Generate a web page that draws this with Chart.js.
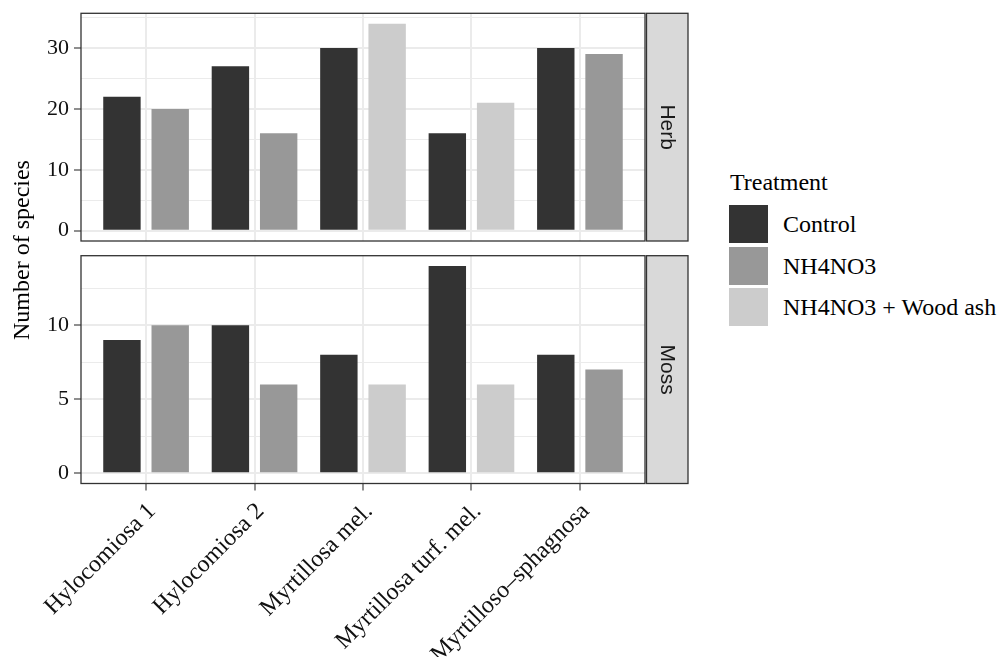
<!DOCTYPE html>
<html>
<head>
<meta charset="utf-8">
<script src="https://cdn.jsdelivr.net/npm/chart.js@4.4.1/dist/chart.umd.min.js"></script>
<style>
  html, body { margin: 0; padding: 0; background: #fff; }
  #wrap { position: relative; width: 1003px; height: 657px; overflow: hidden;
          font-family: 'Liberation Serif', 'Times New Roman', serif; color: #000; }
  canvas { position: absolute; left: 0; }
  #cTop { top: 0; }
  #cBot { top: 246px; }
  #ytitle { position: absolute; width: 300px; height: 24px; line-height: 24px; font-size: 24px;
            text-align: center; left: -129.5px; top: 237.5px; transform: rotate(-90deg); white-space: nowrap; }
  .lg-title { position: absolute; left: 730px; top: 170px; font-size: 24px; line-height: 24px; white-space: nowrap; }
  .lg-box { position: absolute; left: 729px; width: 39px; height: 38px; }
  .lg-text { position: absolute; left: 783px; height: 38px; line-height: 38px; font-size: 24px; white-space: nowrap; }
</style>
</head>
<body>
<div id="wrap">
  <canvas id="cTop" width="700" height="250"></canvas>
  <canvas id="cBot" width="700" height="411"></canvas>
  <div id="ytitle">Number of species</div>
  <div id="legend"></div>
</div>
<script>
// ---------------- data ----------------
const categories = ['Hylocomiosa 1', 'Hylocomiosa 2', 'Myrtillosa mel.', 'Myrtillosa turf. mel.', 'Myrtilloso\u2013sphagnosa'];
const treatments = ['Control', 'NH4NO3', 'NH4NO3 + Wood ash'];
const facets = ['Herb', 'Moss'];
const legendTitle = 'Treatment';

const herbControl = [22, 27, 30, 16, 30];
const herbNH4NO3  = [20, 16, null, null, 29];
const herbWoodAsh = [null, null, 34, 21, null];

const mossControl = [9, 10, 8, 14, 8];
const mossNH4NO3  = [10, 6, null, null, 7];
const mossWoodAsh = [null, null, 6, 6, null];

const herbMajorTicks = [0, 10, 20, 30];
const herbMinorTicks = [5, 15, 25, 35];
const mossMajorTicks = [0, 5, 10];
const mossMinorTicks = [2.5, 7.5, 12.5];

// ---------------- style ----------------
const fillColors = ['#333333', '#989898', '#CCCCCC'];
const SERIF = "'Liberation Serif', 'Times New Roman', serif";
const GRID = '#EBEBEB';
const DARK = '#333333';

// ---------------- legend (HTML) ----------------
(function buildLegend() {
  const lg = document.getElementById('legend');
  const t = document.createElement('div');
  t.className = 'lg-title'; t.textContent = legendTitle; lg.appendChild(t);
  const tops = [205, 246.5, 288];
  treatments.forEach((name, i) => {
    const b = document.createElement('div');
    b.className = 'lg-box'; b.style.top = tops[i] + 'px'; b.style.background = fillColors[i];
    lg.appendChild(b);
    const tx = document.createElement('div');
    tx.className = 'lg-text'; tx.style.top = tops[i] + 'px'; tx.textContent = name;
    lg.appendChild(tx);
  });
})();

// ---------------- plugin: panel border + facet strip ----------------
const panelDecor = {
  id: 'panelDecor',
  afterDraw(chart, args, o) {
    const { ctx, chartArea: a } = chart;
    ctx.save();
    ctx.strokeStyle = DARK; ctx.lineWidth = 1.3;
    ctx.strokeRect(a.left, a.top, a.right - a.left, a.bottom - a.top);
    const sx = a.right + 1.5, sw = 41.5;
    ctx.fillStyle = '#D9D9D9';
    ctx.fillRect(sx, a.top, sw, a.bottom - a.top);
    ctx.strokeRect(sx, a.top, sw, a.bottom - a.top);
    ctx.translate(sx + sw / 2, (a.top + a.bottom) / 2);
    ctx.rotate(Math.PI / 2);
    ctx.fillStyle = '#1A1A1A';
    ctx.font = '21px "Liberation Sans", Arial, sans-serif';
    ctx.textAlign = 'center'; ctx.textBaseline = 'middle';
    ctx.fillText(o.label, 0, 0);
    ctx.restore();
  }
};

function toPoints(vals) {
  return vals.map((v, i) => ({ x: i + 1, y: v }));
}

function makePanel(id, label, series, majors, minors, showX, pad) {
  const maxVal = Math.max(...series.flat().filter(v => v !== null));
  const yTicks = majors.concat(minors).sort((a, b) => a - b);
  const isMajor = v => majors.includes(v);
  return new Chart(document.getElementById(id), {
    type: 'bar',
    data: {
      datasets: series.map((vals, i) => ({
        label: treatments[i],
        data: toPoints(vals),
        backgroundColor: fillColors[i],
        borderWidth: 0,
        stack: i === 0 ? 'ctrl' : 'trt',
        categoryPercentage: 0.89,
        barPercentage: 0.775
      }))
    },
    options: {
      responsive: false,
      animation: false,
      layout: { padding: pad },
      plugins: {
        legend: { display: false },
        tooltip: { enabled: false },
        panelDecor: { label }
      },
      scales: {
        x: {
          type: 'linear',
          min: 0.4, max: 5.6,
          offset: false,
          bounds: 'data',
          afterBuildTicks: s => { s.ticks = categories.map((c, i) => ({ value: i + 1 })); },
          afterFit: s => { s.height = showX ? 173.5 : 0; s.paddingLeft = 0; s.paddingRight = 0; },
          border: { display: false },
          grid: { color: GRID, lineWidth: 2, offset: false, drawTicks: showX, tickLength: 7,
                  tickColor: DARK, tickWidth: 1.1 },
          ticks: {
            display: showX,
            autoSkip: false,
            maxRotation: 45, minRotation: 45,
            padding: 7,
            labelOffset: 6,
            color: '#111111',
            font: { family: SERIF, size: 24 },
            callback: v => categories[Math.round(v) - 1]
          }
        },
        y: {
          type: 'linear',
          stacked: false,
          min: -0.05 * maxVal, max: 1.05 * maxVal,
          bounds: 'data',
          afterBuildTicks: s => { s.ticks = yTicks.map(v => ({ value: v })); },
          afterFit: s => { s.width = 81; s.paddingTop = 0; s.paddingBottom = 0; },
          border: { display: false },
          grid: {
            color: GRID,
            lineWidth: c => (c.tick && isMajor(c.tick.value)) ? 2 : 1,
            tickLength: 7,
            tickWidth: 1.1,
            tickColor: c => (c.tick && isMajor(c.tick.value)) ? DARK : 'rgba(0,0,0,0)'
          },
          ticks: {
            autoSkip: false,
            padding: 5,
            color: '#111111',
            font: { family: SERIF, size: 22 },
            callback: v => isMajor(v) ? String(v) : ''
          }
        }
      }
    },
    plugins: [panelDecor]
  });
}

makePanel('cTop', facets[0], [herbControl, herbNH4NO3, herbWoodAsh], herbMajorTicks, herbMinorTicks, false,
          { top: 13.3, bottom: 9, left: 0, right: 55 });
makePanel('cBot', facets[1], [mossControl, mossNH4NO3, mossWoodAsh], mossMajorTicks, mossMinorTicks, true,
          { top: 9.7, bottom: 0, left: 0, right: 55 });
</script>
</body>
</html>
